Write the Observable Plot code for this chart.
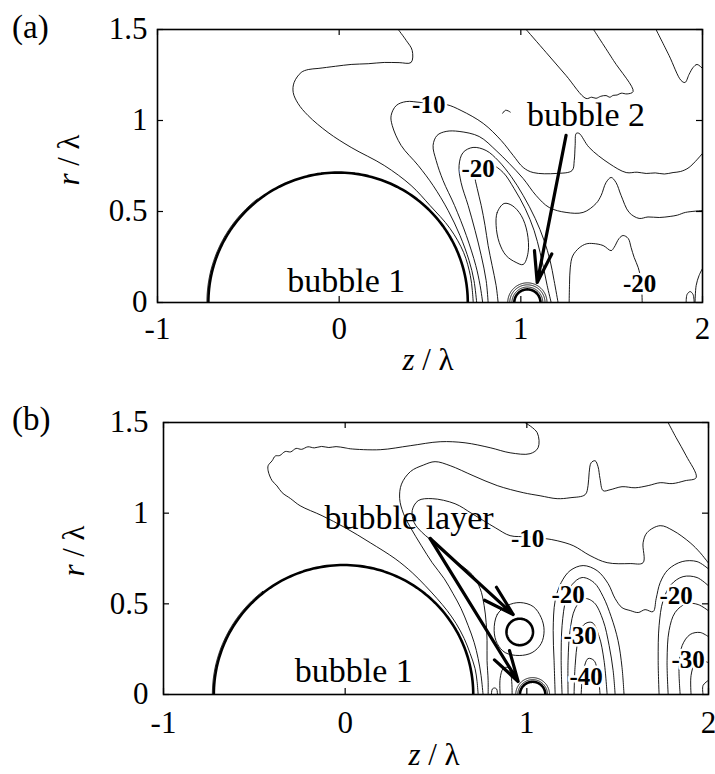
<!DOCTYPE html>
<html>
<head>
<meta charset="utf-8">
<script src="https://cdn.jsdelivr.net/npm/d3@7"></script>
<script src="https://cdn.jsdelivr.net/npm/@observablehq/plot@0.6"></script>
<style>
html,body{margin:0;padding:0;background:#fff;}
#chart{width:715px;height:774px;overflow:hidden;}
#chart svg{display:block;}
</style>
</head>
<body>
<div id="chart"></div>
<script>
// ---------- axes ----------
const X_TICKS = [-1, 0, 1, 2];
const Y_TICKS = [0, 0.5, 1, 1.5];

// ---------- panel (a): contour lines, [z/λ, r/λ] ----------
const aLobe = [[0.325,1.5],[0.369,1.44],[0.402,1.385],[0.396,1.319],[0.33,1.318],[0.248,1.319],[0.16,1.312],[0.066,1.308],[-0.02,1.298],[-0.116,1.286],[-0.17,1.28],[-0.209,1.264],[-0.248,1.209],[-0.253,1.154],[-0.226,1.093],[-0.171,1.027],[-0.061,0.934],[0.066,0.852],[0.248,0.753],[0.396,0.643],[0.50,0.533],[0.61,0.407],[0.685,0.275],[0.722,0.148],[0.733,0.066],[0.738,0]];
const aM10 = [[2.0,0.819],[1.926,0.742],[1.88,0.72],[1.838,0.714],[1.79,0.706],[1.74,0.712],[1.69,0.709],[1.64,0.716],[1.58,0.714],[1.486,0.764],[1.376,0.852],[1.321,0.929],[1.305,0.929],[1.299,0.863],[1.294,0.78],[1.282,0.725],[1.194,0.709],[1.068,0.714],[1.013,0.742],[0.958,0.808],[0.892,0.89],[0.793,0.984],[0.671,1.055],[0.589,1.088],[0.451,1.099],[0.369,1.104],[0.314,1.082],[0.286,1.027],[0.292,0.973],[0.341,0.863],[0.435,0.753],[0.517,0.643],[0.6,0.505],[0.665,0.368],[0.715,0.231],[0.742,0.121],[0.757,0]];
const aM15 = [[2.0,0.505],[1.906,0.495],[1.862,0.48],[1.822,0.473],[1.762,0.467],[1.70,0.47],[1.651,0.462],[1.596,0.495],[1.552,0.588],[1.524,0.659],[1.497,0.687],[1.469,0.659],[1.442,0.588],[1.414,0.544],[1.343,0.495],[1.249,0.495],[1.156,0.522],[1.084,0.588],[1.013,0.681],[0.936,0.764],[0.864,0.835],[0.771,0.912],[0.66,0.94],[0.589,0.94],[0.539,0.918],[0.517,0.863],[0.534,0.78],[0.572,0.67],[0.635,0.533],[0.70,0.368],[0.752,0.203],[0.776,0.093],[0.79,0]];
const aW = [[0.82,0],[0.809,0.121],[0.782,0.258],[0.748,0.396],[0.71,0.533],[0.671,0.659],[0.66,0.753],[0.682,0.824],[0.737,0.852],[0.809,0.835],[0.875,0.78],[0.947,0.692],[1.013,0.588],[1.079,0.462],[1.128,0.341],[1.161,0.231],[1.183,0.121],[1.205,0]];
const aM20 = [[0.875,0],[0.864,0.093],[0.842,0.203],[0.82,0.313],[0.803,0.423],[0.782,0.533],[0.76,0.626],[0.748,0.698],[0.771,0.753],[0.837,0.758],[0.903,0.714],[0.963,0.626],[1.024,0.516],[1.073,0.396],[1.106,0.275],[1.128,0.176],[1.145,0.093],[1.167,0]];
const aCore = [[0.908,0.544],[0.87,0.495],[0.864,0.423],[0.881,0.33],[0.919,0.258],[0.974,0.22],[1.013,0.209],[1.04,0.275],[1.035,0.385],[1.002,0.478],[0.952,0.533]];
const aR20 = [[1.266,0],[1.268,0.1],[1.272,0.19],[1.285,0.255],[1.321,0.3],[1.36,0.322],[1.398,0.324],[1.453,0.313],[1.497,0.285],[1.513,0.302],[1.541,0.352],[1.563,0.368],[1.591,0.352],[1.607,0.302],[1.624,0.247],[1.646,0.192],[1.662,0.12],[1.668,0]];
const aEdge1 = [[1.91,0],[1.915,0.044],[1.932,0.06],[1.948,0.044],[1.954,0]];
const aEdge2 = [[1.959,0],[1.965,0.093],[1.981,0.148],[2.0,0.187]];
const aTongue = [[1.029,1.5],[1.139,1.374],[1.249,1.247],[1.359,1.121],[1.39,1.128],[1.414,1.122],[1.44,1.133],[1.469,1.137],[1.49,1.128],[1.508,1.138],[1.53,1.14],[1.552,1.15],[1.585,1.146],[1.618,1.159],[1.51,1.33],[1.40,1.5]];
const aTopRight = [[1.744,1.5],[1.816,1.357],[1.882,1.22],[1.904,1.209],[1.926,1.253],[1.948,1.291],[1.97,1.308],[2.0,1.286]];
const aSpeck = [[0.90,1.04],[0.915,1.056],[0.93,1.053],[0.942,1.046]];

// bubbles: [z centre, r centre, radius, from deg, to deg]
const aBubbles = [[-0.006,0,0.714,0,180],[1.036,0,0.072,0,180]];
const aRings = [[-0.006,0,0.722,128,180],[1.036,0,0.085,0,180],[1.036,0,0.097,0,180],[1.036,0,0.108,0,180]];

const aLevelText = ["-10","-20","-20"];
const aLevelZ = [0.493,0.765,1.654];
const aLevelR = [1.085,0.734,0.104];

const aNoteText = ["bubble 1","bubble 2"];
const aNoteZ = [0.039,1.359];
const aNoteR = [0.117,1.027];

const aArrows = [[1.249,0.918,1.09,0.11]];

// ---------- panel (b) ----------
const bLobe = [[0.991,1.499],[1.057,1.444],[1.062,1.361],[1.018,1.328],[0.908,1.333],[0.798,1.361],[0.66,1.388],[0.523,1.394],[0.358,1.372],[0.193,1.35],[0.028,1.355],[0.0,1.36],[-0.05,1.367],[-0.09,1.362],[-0.13,1.368],[-0.17,1.36],[-0.205,1.366],[-0.24,1.352],[-0.27,1.357],[-0.30,1.338],[-0.33,1.34],[-0.36,1.318],[-0.385,1.315],[-0.402,1.289],[-0.424,1.262],[-0.424,1.234],[-0.415,1.205],[-0.402,1.179],[-0.375,1.15],[-0.347,1.113],[-0.3,1.08],[-0.248,1.041],[-0.127,0.986],[0,0.92],[0.138,0.837],[0.275,0.749],[0.369,0.672],[0.44,0.601],[0.506,0.529],[0.561,0.463],[0.611,0.391],[0.655,0.309],[0.688,0.226],[0.715,0.143],[0.726,0.072],[0.732,0]];
const bQ = [[1.778,1.499],[1.822,1.416],[1.877,1.317],[1.932,1.196],[1.871,1.179],[1.8,1.163],[1.734,1.168],[1.668,1.152],[1.596,1.14],[1.524,1.146],[1.458,1.129],[1.42,1.124],[1.403,1.19],[1.392,1.256],[1.376,1.289],[1.354,1.278],[1.343,1.223],[1.337,1.152],[1.321,1.102],[1.238,1.085],[1.167,1.08],[1.073,1.096],[0.98,1.113],[0.837,1.152],[0.704,1.207],[0.578,1.262],[0.495,1.284],[0.43,1.265],[0.36,1.23],[0.31,1.16],[0.30,1.08],[0.32,1.0],[0.36,0.92],[0.42,0.82],[0.479,0.727],[0.545,0.639],[0.594,0.556],[0.638,0.474],[0.677,0.38],[0.71,0.287],[0.732,0.198],[0.748,0.105],[0.759,0]];
const bM10 = [[1.998,0.727],[1.954,0.782],[1.899,0.837],[1.805,0.904],[1.734,0.931],[1.662,0.893],[1.64,0.837],[1.64,0.727],[1.569,0.722],[1.442,0.727],[1.348,0.766],[1.255,0.821],[1.167,0.848],[1.101,0.86],[1.0,0.87],[0.908,0.876],[0.826,0.92],[0.699,0.997],[0.605,1.052],[0.479,1.08],[0.402,1.069],[0.369,1.014],[0.38,0.948],[0.424,0.893],[0.512,0.821],[0.605,0.738],[0.699,0.661],[0.743,0.584],[0.765,0.49],[0.776,0.397],[0.781,0.298],[0.781,0.187],[0.787,0.077],[0.787,0]];
const bEnc = [[0.82,0.353],[0.837,0.441],[0.892,0.49],[0.963,0.507],[1.035,0.485],[1.079,0.424],[1.095,0.353],[1.079,0.281],[1.029,0.231],[0.958,0.215],[0.881,0.231],[0.837,0.281]];
const bD1 = [[0.853,0],[0.853,0.088],[0.87,0.143],[0.897,0.149],[0.914,0.099],[0.919,0]];
const bD2 = [[0.805,0],[0.81,0.03],[0.822,0.036],[0.834,0.03],[0.838,0]];
const bM15 = [[1.156,0],[1.15,0.187],[1.145,0.353],[1.156,0.518],[1.189,0.617],[1.238,0.683],[1.31,0.711],[1.387,0.683],[1.447,0.612],[1.486,0.529],[1.524,0.479],[1.569,0.463],[1.613,0.452],[1.651,0.468],[1.695,0.457],[1.712,0.529],[1.734,0.617],[1.778,0.689],[1.855,0.733],[1.937,0.733],[1.998,0.694]];
const bA20 = [[1.194,0],[1.189,0.187],[1.194,0.38],[1.216,0.529],[1.249,0.606],[1.304,0.645],[1.37,0.617],[1.42,0.54],[1.464,0.43],[1.502,0.298],[1.524,0.149],[1.535,0]];
const bA25 = [[1.227,0],[1.227,0.187],[1.238,0.353],[1.266,0.474],[1.315,0.529],[1.37,0.507],[1.42,0.408],[1.453,0.27],[1.475,0.132],[1.486,0]];
const bA30 = [[1.26,0],[1.266,0.16],[1.282,0.298],[1.315,0.386],[1.359,0.397],[1.398,0.32],[1.425,0.187],[1.442,0]];
const bA35 = [[1.299,0],[1.31,0.121],[1.337,0.198],[1.37,0.187],[1.392,0.105],[1.403,0]];
const bB20 = [[1.728,0],[1.723,0.187],[1.728,0.38],[1.75,0.518],[1.794,0.606],[1.86,0.65],[1.937,0.645],[1.998,0.601]];
const bB25 = [[1.778,0],[1.772,0.187],[1.783,0.353],[1.816,0.452],[1.877,0.501],[1.943,0.496],[1.998,0.463]];
const bB30 = [[1.844,0],[1.838,0.16],[1.855,0.27],[1.899,0.331],[1.954,0.342],[1.998,0.32]];
const bB35 = [[1.904,0],[1.904,0.105],[1.926,0.171],[1.965,0.187],[1.998,0.176]];
const bB40 = [[1.97,0],[1.97,0.05],[1.998,0.077]];

const bBubbles = [[-0.009,0,0.714,0,180],[0.961,0.345,0.073,0,360],[1.032,0,0.07,0,180]];
const bRings = [[-0.009,0,0.722,128,180],[1.032,0,0.082,0,180],[1.032,0,0.093,0,180]];

const bLevelText = ["-10","-20","-30","-40","-20","-30"];
const bLevelZ = [1.004,1.227,1.293,1.326,1.822,1.888];
const bLevelR = [0.857,0.551,0.32,0.099,0.545,0.193];

const bNoteText = ["bubble 1","bubble layer"];
const bNoteZ = [0.047,0.352];
const bNoteR = [0.127,0.975];

const bArrows = [[0.468,0.86,0.925,0.441],[0.468,0.86,0.952,0.072]];

// ---------- helpers ----------
const FONT = "'Liberation Serif','Times New Roman',serif";
function toRows(list) {
  return list.flatMap(([id, pts]) => pts.map(([z, r]) => ({id, z, r})));
}
function arcRows(defs, prefix) {
  return defs.flatMap(([cz, cr, rad, a0, a1], j) => d3.range(121).map(k => {
    const t = (a0 + (a1 - a0) * k / 120) * Math.PI / 180;
    return {id: prefix + j, z: cz + rad * Math.cos(t), r: cr + rad * Math.sin(t)};
  }));
}
function zipText(t, z, r) { return t.map((s, i) => ({t: s, z: z[i], r: r[i]})); }

function panel(cfg) {
  const W = 715;
  const plotH = cfg.height - cfg.mt - cfg.mb;
  const plotW = W - cfg.ml - cfg.mr;
  const lineOpts = {x: "z", y: "r", z: "id", stroke: "black", strokeWidth: 0.9, clip: true};
  const svg = Plot.plot({
    width: W, height: cfg.height,
    marginTop: cfg.mt, marginRight: cfg.mr, marginBottom: cfg.mb, marginLeft: cfg.ml,
    x: {domain: [-1, 2], label: null},
    y: {domain: [0, 1.5], label: null},
    style: {fontFamily: FONT, background: "white", color: "black"},
    marks: [
      Plot.line(toRows(cfg.open), {...lineOpts, curve: "catmull-rom"}),
      Plot.line(toRows(cfg.closed), {...lineOpts, curve: "catmull-rom-closed"}),
      Plot.line(arcRows(cfg.rings, "ring"), {...lineOpts, strokeWidth: 0.9}),
      Plot.line(arcRows(cfg.bubbles, "bub"), {...lineOpts, strokeWidth: 2.6}),
      Plot.text(zipText(cfg.notes[0], cfg.notes[1], cfg.notes[2]), {x: "z", y: "r", text: "t", fontSize: 34, fill: "black"}),
      Plot.text(zipText(cfg.levels[0], cfg.levels[1], cfg.levels[2]), {x: "z", y: "r", text: "t", fontSize: 25, fontWeight: "bold", fill: "black", stroke: "white", strokeWidth: 5, paintOrder: "stroke"}),
      Plot.arrow(cfg.arrows, {x1: d => d[0], y1: d => d[1], x2: d => d[2], y2: d => d[3], stroke: "black", strokeWidth: 3.2, headLength: 15, headAngle: 32}),
      Plot.tickX(X_TICKS, {x: d => d, insetTop: plotH - 6, stroke: "black", strokeWidth: 1.2}),
      Plot.tickX(X_TICKS, {x: d => d, insetBottom: plotH - 6, stroke: "black", strokeWidth: 1.2}),
      Plot.tickY(Y_TICKS, {y: d => d, insetRight: plotW - 6, stroke: "black", strokeWidth: 1.2}),
      Plot.tickY(Y_TICKS, {y: d => d, insetLeft: plotW - 6, stroke: "black", strokeWidth: 1.2}),
      Plot.frame({stroke: "black", strokeWidth: 1.6}),
      Plot.axisX(X_TICKS, {tickSize: 0, tickPadding: cfg.xpad, fontSize: 31, tickFormat: d => String(d), label: null}),
      Plot.axisY(Y_TICKS, {tickSize: 0, tickPadding: cfg.ypad, fontSize: 31, tickFormat: d => String(d), label: null})
    ]
  });
  const s = d3.select(svg);
  s.append("text").attr("x", 12).attr("y", cfg.tagY).attr("font-size", 33)
    .attr("text-anchor", "start").attr("font-family", FONT).attr("fill", "black").text(cfg.tag);
  const yt = s.append("text").attr("transform", `translate(${cfg.ytX},${cfg.ytY}) rotate(-90)`)
    .attr("text-anchor", "middle").attr("font-size", 31).attr("font-family", FONT).attr("fill", "black");
  yt.append("tspan").attr("font-style", "italic").text("r");
  yt.append("tspan").text(" / λ");
  const xt = s.append("text").attr("x", cfg.xtX).attr("y", cfg.xtY)
    .attr("text-anchor", "middle").attr("font-size", 31).attr("font-family", FONT).attr("fill", "black");
  xt.append("tspan").attr("font-style", "italic").text("z");
  xt.append("tspan").text(" / λ");
  return svg;
}

const chart = document.getElementById("chart");
chart.appendChild(panel({
  height: 387, mt: 29, mb: 85, ml: 157, mr: 13, xpad: 14, ypad: 10,
  open: [["l5", aLobe], ["l10", aM10], ["l15", aM15], ["w", aW], ["l20", aM20], ["r20", aR20], ["e1", aEdge1], ["e2", aEdge2], ["tg", aTongue], ["tr", aTopRight], ["sp", aSpeck]],
  closed: [["core", aCore]],
  bubbles: aBubbles, rings: aRings,
  levels: [aLevelText, aLevelZ, aLevelR],
  notes: [aNoteText, aNoteZ, aNoteR],
  arrows: aArrows,
  tag: "(a)", tagY: 38, ytX: 79, ytY: 160, xtX: 428, xtY: 370
}));
chart.appendChild(panel({
  height: 387, mt: 35, mb: 80, ml: 163, mr: 7, xpad: 16, ypad: 15,
  open: [["p", bLobe], ["q", bQ], ["l10", bM10], ["d1", bD1], ["d2", bD2], ["m15", bM15], ["a20", bA20], ["a25", bA25], ["a30", bA30], ["a35", bA35], ["b20", bB20], ["b25", bB25], ["b30", bB30], ["b35", bB35], ["b40", bB40]],
  closed: [["enc", bEnc]],
  bubbles: bBubbles, rings: bRings,
  levels: [bLevelText, bLevelZ, bLevelR],
  notes: [bNoteText, bNoteZ, bNoteR],
  arrows: bArrows,
  tag: "(b)", tagY: 43, ytX: 84, ytY: 164, xtX: 434, xtY: 378
}));
</script>
</body>
</html>
